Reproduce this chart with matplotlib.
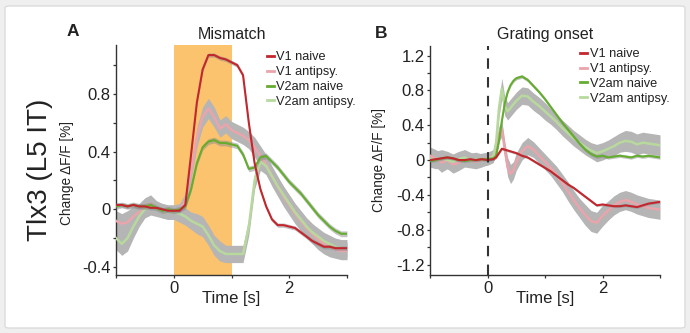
import numpy as np
import matplotlib
matplotlib.use("Agg")
import matplotlib.pyplot as plt
from matplotlib.patches import FancyBboxPatch

plt.rcParams['font.family'] = ['Liberation Sans', 'DejaVu Sans']

# ---- data ----
labels = ["V1 naive", "V1 antipsy.", "V2am naive", "V2am antipsy."]

# panel A: mismatch, sampled every 0.1 s from -1 to 3 s
t_a = np.round(np.arange(-1.0, 3.001, 0.1), 2)
a_v1_naive = [0.03, 0.03, 0.02, 0.03, 0.02, 0.02, 0.01, 0.01, 0.00, -0.01,
              -0.01, -0.01, 0.03, 0.38, 0.74, 0.97, 1.07, 1.07, 1.05, 1.04,
              1.02, 1.00, 0.93, 0.60, 0.32, 0.14, 0.02, -0.07, -0.11, -0.11,
              -0.12, -0.13, -0.16, -0.19, -0.22, -0.24, -0.26, -0.26, -0.27, -0.27, -0.27]
a_v1_anti = [-0.08, -0.10, -0.09, -0.05, -0.02, 0.02, 0.04, 0.01, -0.01, -0.02,
             -0.02, -0.01, 0.06, 0.26, 0.50, 0.64, 0.70, 0.64, 0.56, 0.59,
             0.55, 0.53, 0.51, 0.48, 0.43, 0.37, 0.31, 0.23, 0.16, 0.09,
             0.03, -0.03, -0.08, -0.13, -0.17, -0.21, -0.24, -0.26, -0.28, -0.29, -0.29]
a_v2_naive = [0.02, 0.03, 0.02, 0.03, 0.02, 0.02, 0.03, 0.01, -0.01, 0.00,
              -0.01, 0.00, 0.02, 0.14, 0.32, 0.43, 0.47, 0.48, 0.46, 0.46,
              0.45, 0.44, 0.38, 0.28, 0.29, 0.36, 0.37, 0.33, 0.29, 0.24,
              0.19, 0.15, 0.11, 0.06, 0.01, -0.04, -0.08, -0.12, -0.15, -0.17, -0.17]
a_v2_anti = [-0.20, -0.24, -0.20, -0.12, -0.05, 0.00, 0.02, 0.00, -0.01, -0.02,
             -0.02, -0.03, -0.05, -0.08, -0.10, -0.12, -0.18, -0.25, -0.29, -0.31,
             -0.31, -0.31, -0.31, -0.12, 0.20, 0.33, 0.30, 0.23, 0.16, 0.10,
             0.04, -0.02, -0.07, -0.12, -0.16, -0.19, -0.22, -0.24, -0.26, -0.27, -0.27]
a_v1_anti_err = [0.07, 0.07, 0.08, 0.07, 0.06, 0.06, 0.06, 0.05, 0.05, 0.05,
                 0.05, 0.05, 0.05, 0.06, 0.07, 0.07, 0.07, 0.07, 0.06, 0.06,
                 0.06, 0.06, 0.06, 0.06, 0.07, 0.07, 0.07, 0.07, 0.07, 0.07,
                 0.07, 0.07, 0.07, 0.07, 0.07, 0.07, 0.07, 0.07, 0.06, 0.06, 0.06]
a_v2_anti_err = [0.08, 0.08, 0.09, 0.08, 0.07, 0.06, 0.06, 0.05, 0.05, 0.05,
                 0.05, 0.06, 0.06, 0.06, 0.07, 0.07, 0.07, 0.07, 0.07, 0.06,
                 0.06, 0.06, 0.06, 0.06, 0.06, 0.06, 0.06, 0.06, 0.06, 0.06,
                 0.06, 0.06, 0.06, 0.06, 0.06, 0.06, 0.06, 0.06, 0.06, 0.06, 0.06]
a_v1_naive_err = 0.015
a_v2_naive_err = 0.02
mismatch_window = (0.0, 1.0)

# panel B: grating onset, denser around the onset transient
t_b = [-1.0, -0.9, -0.8, -0.7, -0.6, -0.5, -0.4, -0.3, -0.2, -0.1, 0.0, 0.1,
       0.15, 0.2, 0.25, 0.3, 0.35, 0.4, 0.45, 0.5,
       0.6, 0.7, 0.8, 0.9, 1.0, 1.1, 1.2, 1.3, 1.4, 1.5, 1.6, 1.7, 1.8, 1.9,
       2.0, 2.1, 2.2, 2.3, 2.4, 2.5, 2.6, 2.7, 2.8, 2.9, 3.0]
b_v1_naive = [0.00, 0.01, 0.02, 0.03, 0.02, 0.00, 0.00, 0.01, 0.00, 0.01, 0.00, 0.01,
              0.03, 0.08, 0.13, 0.12, 0.11, 0.10, 0.09, 0.08,
              0.05, 0.03, -0.01, -0.05, -0.09, -0.13, -0.18, -0.23, -0.28, -0.32, -0.37, -0.42, -0.47, -0.52,
              -0.51, -0.52, -0.53, -0.53, -0.52, -0.53, -0.54, -0.52, -0.50, -0.49, -0.48]
b_v1_anti = [0.05, 0.02, -0.03, 0.00, -0.05, -0.03, 0.02, 0.00, -0.02, 0.00, 0.02, 0.05,
             0.12, 0.30, 0.36, 0.12, -0.08, -0.16, -0.12, -0.02,
             0.10, 0.16, 0.12, 0.05, -0.02, -0.09, -0.17, -0.26, -0.36, -0.46, -0.55, -0.63, -0.70, -0.72,
             -0.64, -0.58, -0.52, -0.48, -0.46, -0.48, -0.51, -0.53, -0.55, -0.56, -0.57]
b_v2_naive = [-0.01, 0.00, 0.02, 0.03, 0.02, 0.00, -0.01, 0.00, 0.00, 0.01, 0.01, 0.02,
              0.05, 0.22, 0.45, 0.65, 0.78, 0.86, 0.91, 0.94,
              0.96, 0.92, 0.85, 0.78, 0.70, 0.61, 0.52, 0.43, 0.35, 0.27, 0.19, 0.12, 0.07, 0.04,
              0.05, 0.03, 0.04, 0.05, 0.04, 0.03, 0.05, 0.04, 0.05, 0.04, 0.03]
b_v2_anti = [0.02, 0.00, 0.02, 0.00, -0.02, 0.01, 0.03, 0.00, 0.01, 0.00, 0.01, 0.04,
             0.20, 0.60, 0.82, 0.62, 0.56, 0.60, 0.64, 0.68,
             0.74, 0.73, 0.67, 0.62, 0.56, 0.50, 0.44, 0.37, 0.31, 0.25, 0.20, 0.15, 0.11, 0.08,
             0.10, 0.13, 0.16, 0.20, 0.22, 0.21, 0.18, 0.20, 0.19, 0.18, 0.17]
b_v1_anti_err = [0.10, 0.10, 0.11, 0.10, 0.10, 0.09, 0.10, 0.09, 0.08, 0.08, 0.07, 0.07,
                 0.08, 0.09, 0.09, 0.10, 0.11, 0.11, 0.10, 0.10,
                 0.10, 0.10, 0.09, 0.09, 0.09, 0.09, 0.10, 0.10, 0.11, 0.11, 0.11, 0.12, 0.12, 0.12,
                 0.12, 0.11, 0.11, 0.11, 0.11, 0.11, 0.11, 0.11, 0.11, 0.11, 0.11]
b_v2_anti_err = [0.10, 0.10, 0.10, 0.10, 0.09, 0.09, 0.09, 0.08, 0.08, 0.07, 0.07, 0.07,
                 0.09, 0.11, 0.12, 0.11, 0.10, 0.10, 0.10, 0.10,
                 0.10, 0.10, 0.10, 0.10, 0.10, 0.09, 0.09, 0.09, 0.09, 0.09, 0.09, 0.09, 0.09, 0.10,
                 0.10, 0.10, 0.11, 0.11, 0.12, 0.12, 0.12, 0.12, 0.12, 0.12, 0.12]
b_v1_naive_err = 0.015
b_v2_naive_err = 0.02

# ---- style ----
C_RED = '#c3272e'
C_PINK = '#eaa4ac'
C_GREEN = '#64ad2f'
C_LGREEN = '#b8d99d'
C_BAND = '#b5b5b5'
C_ORANGE = '#fbc36e'
C_TEXT = '#222222'
LINE_COLORS = [C_RED, C_PINK, C_GREEN, C_LGREEN]

W, H = 690, 333
fig = plt.figure(figsize=(W / 100, H / 100), dpi=100, facecolor='#efefef')
fig.patches.append(FancyBboxPatch((5 / W, 5 / H), 680 / W, 322 / H,
                                  boxstyle="round,pad=0,rounding_size=0.006",
                                  transform=fig.transFigure, facecolor='white',
                                  edgecolor='#dcdcdc', linewidth=1, zorder=-10))


def px_axes(left, right, top, bottom):
    return fig.add_axes([left / W, 1 - bottom / H, (right - left) / W, (bottom - top) / H])


def draw_panel(ax, t, series, errs, ylim, yticks, yminor, legend_anchor):
    ax.patch.set_alpha(0)
    t = np.asarray(t)
    # antipsy. bands first, then lines, naive on top
    for idx in (1, 3):
        m = np.asarray(series[idx]); e = np.asarray(errs[idx])
        ax.fill_between(t, m - e, m + e, color=C_BAND, lw=0, zorder=2)
    for idx in (1, 3):
        ax.plot(t, series[idx], color=LINE_COLORS[idx], lw=1.8, zorder=3)
    for idx in (2, 0):
        m = np.asarray(series[idx]); e = errs[idx]
        ax.fill_between(t, m - e, m + e, color='#8a8a8a', alpha=0.5, lw=0, zorder=4)
        ax.plot(t, m, color=LINE_COLORS[idx], lw=1.5, zorder=5)

    ax.set_xlim(-1, 3)
    ax.set_ylim(*ylim)
    ax.set_xticks([0, 2])
    ax.set_xticks([-1, 1, 3], minor=True)
    ax.set_yticks(yticks)
    ax.set_yticklabels(['0' if v == 0 else f'{v:.1f}' for v in yticks])
    ax.set_yticks(yminor, minor=True)
    for s in ('top', 'right'):
        ax.spines[s].set_visible(False)
    for s in ('left', 'bottom'):
        ax.spines[s].set_color('#333333')
        ax.spines[s].set_linewidth(1.0)
    ax.tick_params(which='both', direction='out', length=2.5, width=0.9,
                   color='#333333', labelsize=12, labelcolor=C_TEXT, pad=1.5)
    ax.set_xlabel('Time [s]', fontsize=12, color=C_TEXT)
    ax.set_ylabel('Change \u0394F/F [%]', fontsize=9.8, color=C_TEXT)
    ax.xaxis.set_label_coords(0.5, -0.07)

    handles = [plt.Line2D([], [], color=c, lw=2) for c in LINE_COLORS]
    ax.legend(handles, labels, loc='upper left', bbox_to_anchor=legend_anchor,
              frameon=False, fontsize=9.2, handlelength=0.55, handletextpad=0.2,
              labelspacing=0.22, borderpad=0, borderaxespad=0,
              labelcolor=C_TEXT)


# panel A
axA = px_axes(116, 347, 45, 275)
axA.axvspan(*mismatch_window, color=C_ORANGE, lw=0, zorder=1)
draw_panel(axA, t_a, [a_v1_naive, a_v1_anti, a_v2_naive, a_v2_anti],
           [a_v1_naive_err, a_v1_anti_err, a_v2_naive_err, a_v2_anti_err],
           (-0.456, 1.14), [-0.4, 0, 0.4, 0.8], [-0.2, 0.2, 0.6, 1.0],
           (0.652, 0.972))
axA.set_title('Mismatch', fontsize=11.5, color=C_TEXT, pad=4)
axA.yaxis.set_label_coords(-0.18, 0.445)

# panel B
axB = px_axes(430, 660, 46, 275)
axB.axvline(0, color='#333333', lw=1.5, ls=(0, (5, 4)), zorder=6)
draw_panel(axB, t_b, [b_v1_naive, b_v1_anti, b_v2_naive, b_v2_anti],
           [b_v1_naive_err, b_v1_anti_err, b_v2_naive_err, b_v2_anti_err],
           (-1.32, 1.31), [-1.2, -0.8, -0.4, 0, 0.4, 0.8, 1.2],
           [-1.0, -0.6, -0.2, 0.2, 0.6, 1.0],
           (0.652, 0.99))
axB.set_title('Grating onset', fontsize=11.5, color=C_TEXT, pad=5)
axB.yaxis.set_label_coords(-0.19, 0.5)

# panel letters and row label
fig.text(73 / W, 1 - 32 / H, 'A', fontsize=12.5, fontweight='bold', color=C_TEXT, ha='center', va='center')
fig.text(381 / W, 1 - 33 / H, 'B', fontsize=12.5, fontweight='bold', color=C_TEXT, ha='center', va='center')
fig.text(40 / W, 1 - 170 / H, 'Tlx3 (L5 IT)', fontsize=20, color=C_TEXT,
         rotation=90, ha='center', va='center')

fig.savefig('out.png', dpi=100, facecolor=fig.get_facecolor())
